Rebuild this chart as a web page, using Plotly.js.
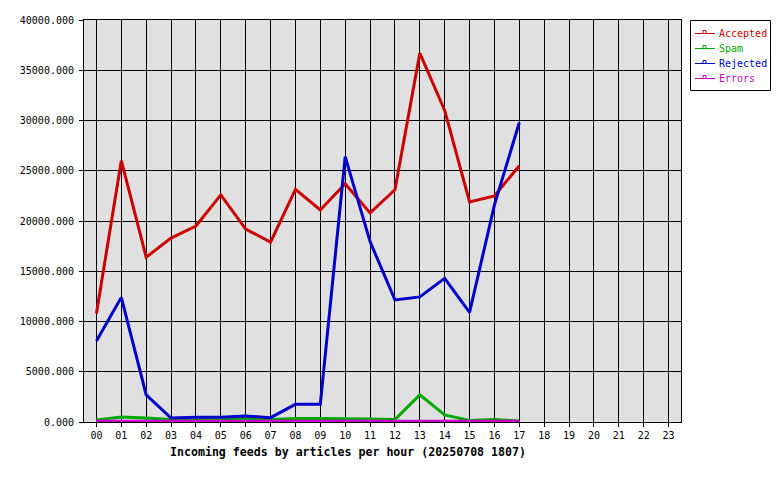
<!DOCTYPE html>
<html>
<head>
<meta charset="utf-8">
<script src="https://cdn.plot.ly/plotly-3.0.1.min.js"></script>
<style>
  html, body { margin: 0; padding: 0; background: #ffffff; }
  #chart { width: 780px; height: 480px; }
</style>
</head>
<body>
<div id="chart"></div>
<script>
// ---- data ----
const hours = ["00","01","02","03","04","05","06","07","08","09","10","11","12","13","14","15","16","17","18","19","20","21","22","23"];
const accepted = [10800, 26000, 16400, 18300, 19500, 22600, 19200, 17900, 23150, 21100, 23700, 20800, 23100, 36700, 31000, 21900, 22500, 25500];
const spam     = [200, 500, 400, 250, 200, 250, 350, 250, 350, 350, 350, 300, 250, 2700, 700, 150, 250, 100];
const rejected = [8050, 12400, 2700, 400, 470, 470, 600, 430, 1760, 1760, 26400, 17950, 12150, 12450, 14300, 10900, 21600, 29800];
const errors   = [80, 80, 80, 80, 80, 80, 80, 80, 80, 80, 80, 80, 80, 80, 80, 80, 80, 80];
const seriesNames  = ["Accepted", "Spam", "Rejected", "Errors"];
const seriesColors = ["#cc0000", "#00aa00", "#0000cc", "#cc00cc"];
const xTitle = "Incoming feeds by articles per hour (20250708 1807)";

// ---- layout geometry ----
const W = 780, H = 480;
const M = {l: 84, r: 99, t: 20, b: 58};
const PW = W - M.l - M.r, PH = H - M.t - M.b;
const px2x = p => (p - M.l) / PW;
const px2y = p => (H - M.b - p) / PH;

const FONT = "DejaVu Sans Mono, Liberation Mono, monospace";
const allSeries = [accepted, spam, rejected, errors];

const traces = allSeries.map((vals, i) => ({
  type: "scatter",
  mode: "lines",
  name: seriesNames[i],
  x: vals.map((_, k) => k),
  y: vals,
  line: {color: seriesColors[i], width: 3},
  showlegend: false,
  hoverinfo: "skip"
}));

// custom legend (box, line samples with small square, coloured text)
const shapes = [{
  type: "rect", xref: "paper", yref: "paper",
  x0: px2x(690.5), x1: px2x(770.5), y0: px2y(90.5), y1: px2y(20.5),
  line: {color: "#000000", width: 1}, fillcolor: "#ffffff", layer: "above"
}];
const annotations = [];
seriesNames.forEach((nm, i) => {
  const yy = 33 + i * 15;
  shapes.push({
    type: "line", xref: "paper", yref: "paper",
    x0: px2x(695), x1: px2x(715), y0: px2y(yy + 0.5), y1: px2y(yy + 0.5),
    line: {color: seriesColors[i], width: 1}, layer: "above"
  });
  shapes.push({
    type: "rect", xref: "paper", yref: "paper",
    x0: px2x(703), x1: px2x(706), y0: px2y(yy + 0.5), y1: px2y(yy - 2.5),
    line: {color: seriesColors[i], width: 1}, fillcolor: "#ffffff", layer: "above"
  });
  annotations.push({
    xref: "paper", yref: "paper", x: px2x(717), y: px2y(yy),
    xanchor: "left", yanchor: "middle", showarrow: false,
    text: nm, font: {family: FONT, size: 10, color: seriesColors[i]}
  });
});
annotations.push({
  xref: "paper", yref: "paper", x: px2x(348), y: px2y(452),
  xanchor: "center", yanchor: "middle", showarrow: false,
  text: "<b>" + xTitle + "</b>",
  font: {family: FONT, size: 11.6, color: "#000000"}
});

const layout = {
  width: W, height: H,
  margin: M,
  paper_bgcolor: "#ffffff",
  plot_bgcolor: "#e0e0e0",
  font: {family: FONT, size: 10, color: "#000000"},
  showlegend: false,
  xaxis: {
    range: [-0.5, 23.5],
    tickmode: "array",
    tickvals: hours.map((_, k) => k),
    ticktext: hours,
    showgrid: true, gridcolor: "#000000", gridwidth: 1,
    zeroline: false,
    showline: true, linecolor: "#000000", linewidth: 1, mirror: true,
    ticks: "outside", ticklen: 4, tickcolor: "#000000",
    tickfont: {family: FONT, size: 10, color: "#000000"},
    fixedrange: true
  },
  yaxis: {
    range: [0, 40000],
    tickmode: "linear", tick0: 0, dtick: 5000,
    tickformat: ".3f",
    showgrid: true, gridcolor: "#000000", gridwidth: 1,
    zeroline: false,
    showline: true, linecolor: "#000000", linewidth: 1, mirror: true,
    ticks: "outside", ticklen: 4, tickcolor: "#000000",
    ticklabelstandoff: 3,
    tickfont: {family: FONT, size: 10, color: "#000000"},
    fixedrange: true
  },
  shapes: shapes,
  annotations: annotations
};

Plotly.newPlot("chart", traces, layout, {displayModeBar: false, staticPlot: true});
</script>
</body>
</html>
